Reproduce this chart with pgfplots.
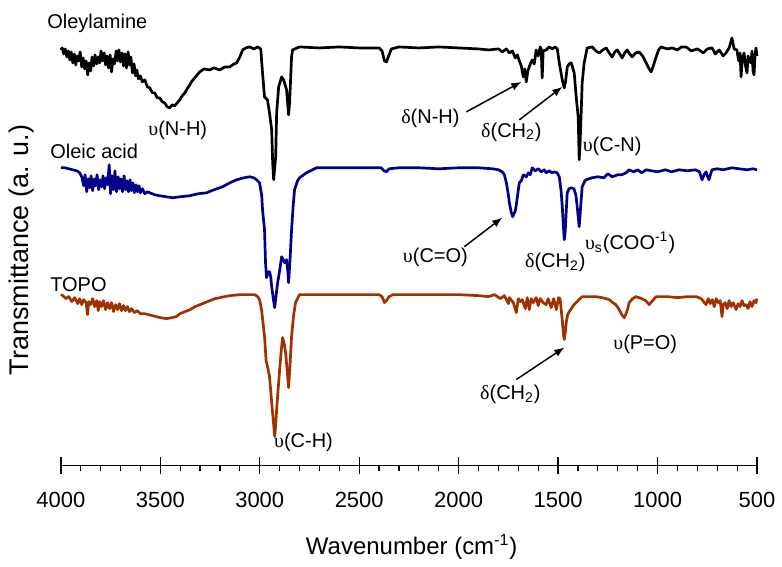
\documentclass[border=0pt]{standalone}
\usepackage{fontspec}
\setmainfont{Liberation Sans}
\newfontfamily\grk{Liberation Serif}
\usepackage{pgfplots}
\pgfplotsset{compat=1.18}
\usetikzlibrary{arrows.meta}
\definecolor{olecol}{RGB}{0,0,0}
\definecolor{oacol}{RGB}{0,0,140}
\definecolor{topocol}{RGB}{160,50,0}
\newcommand{\up}{{\grk υ}}
\newcommand{\dl}{{\grk δ}}
\begin{document}
\begin{tikzpicture}
\begin{axis}[
    scale only axis,
    width=348.5pt, height=218pt,
    x dir=reverse,
    xmin=500, xmax=4000, ymin=95, ymax=531,
    axis x line*=bottom, axis y line=none,
    axis line style={line width=0.7pt},
    xtick={500,1000,...,4000},
    minor x tick num=4,
    tick align=center,
    major tick length=8.5pt, minor tick length=3pt,
    major tick style={line width=0.7pt, black},
    minor x tick style={line width=0.6pt, black, yshift=-1.5pt},
    /pgf/number format/assume math mode=true,
    /pgf/number format/1000 sep={},
    xticklabel style={font=\fontsize{11}{13}\selectfont, anchor=center, yshift=-13pt},
    xlabel={Wavenumber (cm\textsuperscript{-1})},
    xlabel style={font=\fontsize{12}{14}\selectfont, at={(rel axis cs:0.504,-0.188)}, anchor=center},
    clip=false,
    every axis plot/.append style={line width=1.35pt, line join=round},
]
% invisible frame with the reference proportions
\path (axis cs:4306,0) rectangle (axis cs:379.5,561);

%% Oleylamine
\addplot[color=olecol] coordinates {
(4000,511) (3993,513) (3985,507) (3978,512) (3970,504) (3962,510) (3955,501) (3948,509) (3940,498) (3932,507)
(3925,496) (3918,505) (3910,500) (3903,509) (3895,494) (3888,503) (3880,492) (3873,500) (3865,486) (3858,498)
(3850,490) (3843,504) (3835,495) (3828,506) (3820,497) (3812,504) (3805,498) (3798,510) (3790,500) (3782,508)
(3775,496) (3768,505) (3760,493) (3752,506) (3745,489) (3738,502) (3730,497) (3722,510) (3715,500) (3708,511)
(3700,499) (3692,508) (3685,495) (3678,507) (3670,493) (3662,509) (3655,496) (3648,504) (3640,488) (3632,497)
(3625,485) (3618,491) (3610,482) (3600,485) (3590,479) (3578,481) (3565,474) (3553,473) (3540,468) (3528,468)
(3515,463) (3503,463) (3490,459) (3478,458) (3465,454) (3453,453) (3440,456) (3428,455) (3415,458) (3402,461)
(3390,465) (3377,468) (3365,472) (3352,476) (3340,480) (3327,483) (3315,486) (3302,489) (3280,492) (3252,491)
(3230,493) (3202,491) (3175,494) (3151,494) (3130,497) (3116,498) (3100,504) (3086,511) (3070,513) (3051,514)
(3030,512) (3010,514) (2995,512) (2986,488) (2976,464) (2961,461) (2951,448) (2940,431) (2935,398) (2930,381)
(2920,404) (2915,448) (2905,474) (2890,484) (2880,481) (2865,471) (2855,446) (2850,458) (2840,504) (2835,511)
(2800,514) (2700,513) (2600,514) (2500,513) (2400,513) (2385,510) (2373,500) (2363,499) (2350,506) (2338,512)
(2300,514) (2200,513) (2100,514) (2000,513) (1900,512) (1850,511) (1800,512) (1780,509) (1760,512) (1745,508)
(1730,510) (1715,503) (1705,506) (1695,500) (1685,495) (1675,484) (1668,492) (1660,479) (1652,490) (1645,494)
(1638,498) (1630,501) (1620,497) (1610,511) (1600,505) (1590,514) (1585,512) (1580,483) (1575,510) (1560,511)
(1545,514) (1530,512) (1515,514) (1504,512) (1494,498) (1479,481) (1469,473) (1462,480) (1454,494) (1444,497)
(1434,498) (1419,488) (1409,464) (1399,444) (1394,401) (1389,420) (1384,448) (1379,478) (1369,498) (1354,513)
(1329,514) (1310,510) (1293,508) (1275,511) (1258,513) (1243,508) (1228,504) (1215,509) (1203,511) (1190,507)
(1178,503) (1165,508) (1153,511) (1140,507) (1128,504) (1110,508) (1093,509) (1075,505) (1057,498) (1045,493)
(1032,489) (1020,496) (1007,504) (995,511) (982,514) (950,512) (927,513) (900,511) (880,514) (857,514)
(830,510) (800,512) (791,511) (770,508) (750,512) (726,513) (710,507) (690,511) (670,505) (656,508)
(640,513) (626,523) (615,512) (601,511) (592,500) (585,508) (580,484) (575,500) (565,508) (558,495)
(550,488) (545,505) (538,500) (530,498) (525,510) (520,490) (515,486) (510,505) (505,513) (500,505)
};
%% Oleic acid
\addplot[color=oacol] coordinates {
(4000,393) (3980,393) (3960,392) (3940,391) (3920,390) (3905,388) (3895,384) (3885,375) (3878,386) (3870,369)
(3862,382) (3855,373) (3848,385) (3840,370) (3832,382) (3825,375) (3818,386) (3810,371) (3802,381) (3795,374)
(3788,385) (3780,372) (3772,383) (3765,376) (3757,396) (3750,367) (3743,385) (3735,371) (3728,390) (3720,369)
(3712,384) (3705,372) (3698,382) (3690,369) (3682,385) (3675,371) (3668,380) (3660,369) (3652,381) (3645,370)
(3638,378) (3630,368) (3622,376) (3615,369) (3607,375) (3600,368) (3590,372) (3578,367) (3565,369) (3553,368)
(3528,366) (3503,365) (3470,364) (3438,363) (3400,364) (3352,365) (3310,367) (3267,368) (3230,371) (3187,374)
(3150,378) (3116,381) (3080,383) (3051,384) (3030,383) (3016,381) (3001,378) (2990,365) (2986,351) (2976,331)
(2971,298) (2966,283) (2956,289) (2951,289) (2945,284) (2940,274) (2932,262) (2925,253) (2918,265) (2910,278)
(2900,290) (2890,304) (2880,300) (2875,298) (2865,301) (2858,287) (2855,278) (2848,300) (2840,331) (2832,355)
(2825,371) (2810,380) (2800,383) (2765,388) (2714,393) (2649,393) (2500,393) (2390,393) (2375,390) (2363,389)
(2350,392) (2300,393) (2200,393) (2100,392) (2000,393) (1900,393) (1830,392) (1800,391) (1781,389) (1770,386)
(1760,378) (1750,366) (1745,358) (1735,348) (1728,344) (1722,347) (1715,350) (1710,356) (1700,371) (1695,378)
(1685,380) (1675,386) (1660,384) (1650,388) (1640,386) (1630,393) (1615,390) (1600,392) (1585,389) (1570,391)
(1560,388) (1545,390) (1530,388) (1520,389) (1505,388) (1494,384) (1485,370) (1479,354) (1473,333) (1469,321)
(1464,330) (1459,350) (1454,368) (1445,372) (1435,373) (1420,372) (1410,365) (1404,354) (1397,340) (1394,334)
(1388,350) (1379,374) (1365,380) (1359,381) (1330,383) (1300,384) (1270,383) (1250,387) (1228,384) (1200,386)
(1180,386) (1158,388) (1143,391) (1120,389) (1100,391) (1080,388) (1057,391) (1030,390) (1000,389) (960,391)
(930,389) (892,391) (850,390) (810,391) (790,389) (776,381) (766,386) (756,389) (748,384) (741,381)
(733,387) (726,391) (700,392) (670,391) (626,393) (590,392) (550,391) (520,392) (500,391)
};
%% TOPO
\addplot[color=topocol] coordinates {
(4000,266) (3990,265) (3975,262) (3960,264) (3945,259) (3930,263) (3915,257) (3905,262) (3895,256) (3885,261)
(3873,258) (3866,246) (3860,259) (3850,256) (3840,262) (3830,254) (3820,260) (3812,250) (3805,259) (3795,254)
(3785,260) (3775,251) (3765,258) (3755,252) (3745,258) (3735,249) (3725,256) (3715,251) (3705,257) (3695,250)
(3685,255) (3675,250) (3665,254) (3655,249) (3645,252) (3630,248) (3615,250) (3600,247) (3580,247) (3560,246)
(3540,245) (3520,244) (3500,243) (3470,242) (3440,243) (3420,244) (3400,247) (3375,249) (3350,251) (3325,254)
(3300,256) (3275,258) (3250,260) (3225,262) (3200,263) (3150,265) (3100,266) (3026,266) (3010,264) (3001,261)
(2991,251) (2976,224) (2968,200) (2961,194) (2951,184) (2945,170) (2940,158) (2932,140) (2925,124) (2920,135)
(2915,151) (2908,170) (2900,191) (2892,210) (2885,223) (2878,218) (2870,208) (2862,190) (2855,173) (2848,195)
(2840,224) (2830,245) (2820,258) (2800,266) (2700,266) (2550,266) (2400,266) (2385,264) (2373,258) (2363,260)
(2350,264) (2330,266) (2200,266) (2100,266) (2000,266) (1900,265) (1850,264) (1820,266) (1790,262) (1770,265)
(1750,257) (1745,263) (1725,258) (1710,248) (1700,262) (1690,259) (1680,261) (1665,252) (1655,263) (1645,251)
(1635,262) (1625,258) (1610,263) (1600,255) (1590,262) (1575,258) (1560,256) (1550,262) (1535,253) (1522,262)
(1509,251) (1498,263) (1490,262) (1483,248) (1479,240) (1473,226) (1469,221) (1464,228) (1459,238) (1452,246)
(1444,249) (1430,253) (1420,256) (1409,258) (1395,261) (1379,264) (1340,264) (1309,264) (1280,263) (1260,262)
(1243,261) (1225,258) (1210,256) (1193,251) (1180,246) (1168,243) (1158,247) (1150,252) (1143,258) (1125,262)
(1108,264) (1080,262) (1060,260) (1042,256) (1025,260) (1007,264) (950,264) (900,263) (850,264) (806,264)
(780,262) (765,258) (756,256) (745,262) (735,257) (725,261) (715,254) (705,262) (695,258) (685,260)
(676,244) (670,256) (660,258) (650,252) (640,260) (630,254) (620,258) (605,251) (595,257) (585,254)
(575,260) (565,255) (555,256) (545,252) (535,259) (525,254) (515,260) (505,258) (500,262)
};

%% y axis title (the y axis itself is hidden)
\node[rotate=90, font=\fontsize{13.5}{15}\selectfont] at (rel axis cs:-0.056,0.495) {Transmittance (a. u.)};

%% series names
\begin{scope}[every node/.style={font=\fontsize{10}{12}\selectfont, anchor=west, inner sep=0pt}]
\node at (axis cs:4070,538) {Oleylamine};
\node at (axis cs:4055,409) {Oleic acid};
\node at (axis cs:4055,276) {TOPO};
\end{scope}

%% band assignments
\begin{scope}[every node/.style={font=\fontsize{10}{12}\selectfont, inner sep=0pt}]
\node at (axis cs:3412,431) {\up(N-H)};
\node at (axis cs:2142,443) {\dl(N-H)};
\node at (axis cs:1735,429) {\dl(CH\textsubscript{2})};
\node at (axis cs:1228,414) {\up(C-N)};
\node at (axis cs:2117,303) {\up(C=O)};
\node at (axis cs:1514,298) {\dl(CH\textsubscript{2})};
\node at (axis cs:1138,318) {\up\textsubscript{s}(COO\textsuperscript{-1})};
\node at (axis cs:1740,166) {\dl(CH\textsubscript{2})};
\node at (axis cs:1062,216) {\up(P=O)};
\node at (axis cs:2780,118) {\up(C-H)};
\end{scope}
\begin{scope}[line width=0.75pt, -{Latex[length=5pt,width=4pt]}]
\draw (axis cs:1961,449) -- (axis cs:1685,479);
\draw (axis cs:1695,441) -- (axis cs:1479,474);
\draw (axis cs:1971,314) -- (axis cs:1781,343);
\draw (axis cs:1710,181) -- (axis cs:1469,213);
\end{scope}
\end{axis}
\end{tikzpicture}
\end{document}
